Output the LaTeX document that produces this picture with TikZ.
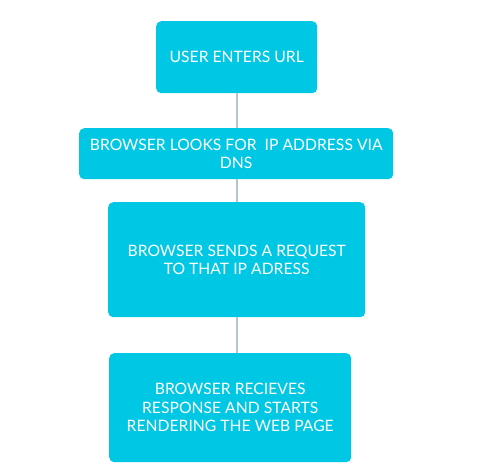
\documentclass[tikz,border=0pt]{standalone}
\usepackage{fontspec}
\setmainfont{Lato}
\definecolor{boxfill}{RGB}{0,200,228}
\definecolor{linkcol}{RGB}{181,199,204}
\begin{document}
\begin{tikzpicture}[x=1pt,y=-1pt,
  stepbox/.style={fill=boxfill,rounded corners=5pt,text=white,align=center,
    font=\fontsize{15.7}{18.6}\selectfont,inner sep=0pt,anchor=north west},
  link/.style={draw=linkcol,line width=2.4pt}]
\useasboundingbox (0,0) rectangle (490,472);
\node[stepbox,minimum width=161pt,minimum height=72pt] (b1) at (156,21) {USER ENTERS URL};
\node[stepbox,minimum width=314pt,minimum height=51pt] (b2) at (79,128) {BROWSER LOOKS FOR\ \ IP ADDRESS VIA\\DNS};
\node[stepbox,minimum width=257pt,minimum height=115pt] (b3) at (108,202) {BROWSER SENDS A REQUEST\\TO THAT IP ADRESS};
\node[stepbox,minimum width=242pt,minimum height=109pt] (b4) at (109,353) {BROWSER RECIEVES\\RESPONSE AND STARTS\\RENDERING THE WEB PAGE};
\coordinate (x) at (237,0);
\draw[link] (b1.south -| x) -- (b2.north -| x);
\draw[link] (b2.south -| x) -- (b3.north -| x);
\draw[link] (b3.south -| x) -- (b4.north -| x);
\end{tikzpicture}
\end{document}
